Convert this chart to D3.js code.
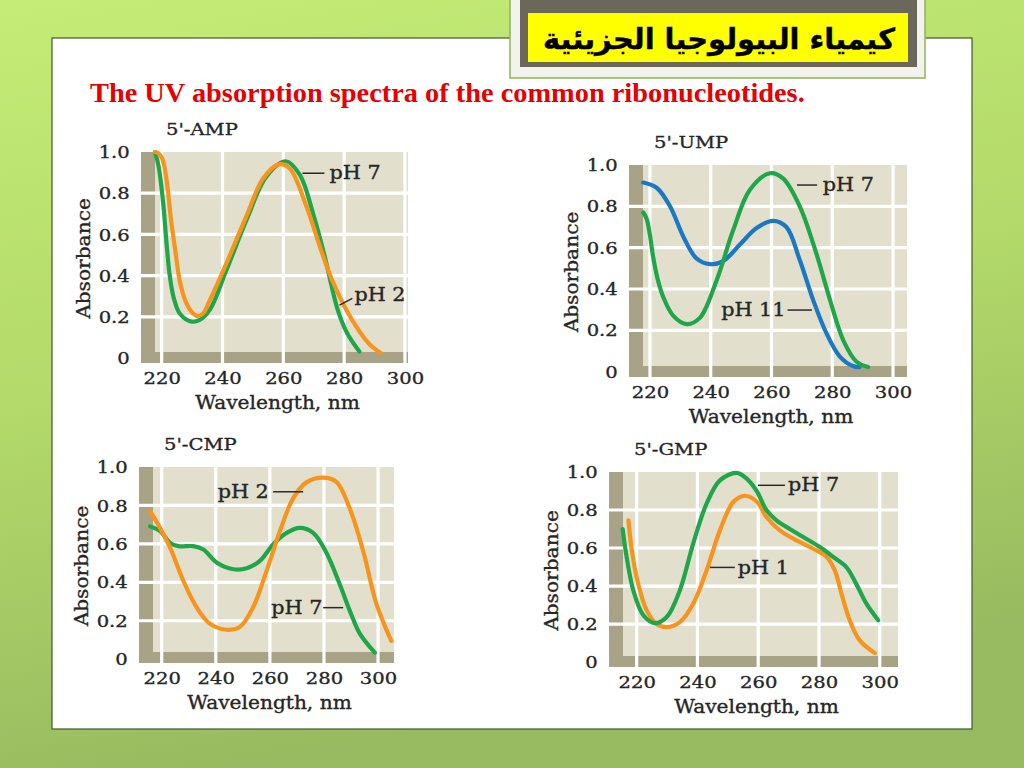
<!DOCTYPE html>
<html><head><meta charset="utf-8">
<script src="https://cdn.jsdelivr.net/npm/d3@7"></script>
<style>
html,body{margin:0;padding:0;overflow:hidden;background:#fff;}
svg{display:block;}
</style></head><body>
<svg id="c" width="1024" height="768"></svg>
<script>
// ---------------- DATA ----------------
const headerText = "كيمياء البيولوجيا الجزيئية";
const chartTitle = "The UV absorption spectra of the common ribonucleotides.";
const panelTitles = ["5'-AMP", "5'-UMP", "5'-CMP", "5'-GMP"];
const wavelengthTicks = [220, 240, 260, 280, 300];
const absorbanceTicks = [0, 0.2, 0.4, 0.6, 0.8, 1.0];
const absorbanceTickLabels = ["0", "0.2", "0.4", "0.6", "0.8", "1.0"];
const xAxisTitle = "Wavelength, nm";
const yAxisTitle = "Absorbance";

// 5'-AMP
const amp_pH7_wl  = [217.8, 219.0, 220.5, 221.6, 222.7, 224.0, 226.0, 229.8, 232.5, 235.8, 241.3, 247.9, 254.4, 260.8, 265.4, 270.0, 273.5, 277.9, 281.0, 285.0];
const amp_pH7_abs = [1.0, 0.93, 0.75, 0.556, 0.395, 0.29, 0.215, 0.177, 0.185, 0.234, 0.427, 0.67, 0.88, 0.955, 0.89, 0.69, 0.50, 0.234, 0.12, 0.032];
const amp_pH2_wl  = [217.8, 218.8, 220.0, 221.0, 222.0, 223.0, 224.4, 226.0, 228.0, 229.8, 231.5, 233.5, 235.8, 241.3, 247.9, 253.3, 258.5, 262.1, 267.5, 272.5, 276.0, 280.7, 285.0, 288.5, 292.0];
const amp_pH2_abs = [1.0, 0.995, 0.975, 0.92, 0.82, 0.68, 0.53, 0.37, 0.27, 0.225, 0.205, 0.215, 0.28, 0.46, 0.69, 0.87, 0.94, 0.92, 0.74, 0.52, 0.38, 0.234, 0.13, 0.065, 0.025];

// 5'-UMP
const ump_pH7_wl   = [217.8, 218.9, 220.0, 221.1, 222.5, 224.4, 227.7, 232.1, 236.4, 241.9, 247.4, 252.9, 259.5, 263.8, 269.3, 274.8, 279.2, 283.6, 288.0, 291.8];
const ump_pH7_abs  = [0.77, 0.74, 0.66, 0.55, 0.45, 0.36, 0.27, 0.23, 0.26, 0.44, 0.685, 0.88, 0.96, 0.935, 0.80, 0.57, 0.35, 0.153, 0.048, 0.022];
const ump_pH11_wl  = [217.8, 222.2, 226.6, 231.0, 235.3, 239.7, 244.1, 249.6, 255.1, 260.5, 264.9, 269.3, 273.7, 278.1, 282.5, 286.8, 289.0];
const ump_pH11_abs = [0.915, 0.89, 0.80, 0.653, 0.548, 0.52, 0.535, 0.615, 0.695, 0.73, 0.70, 0.54, 0.347, 0.185, 0.073, 0.027, 0.022];

// 5'-CMP
const cmp_pH2_wl  = [215.7, 219.4, 223.1, 228.0, 232.9, 237.8, 244.0, 248.9, 253.8, 258.8, 263.7, 268.6, 273.5, 279.7, 284.6, 289.5, 294.5, 299.4, 304.9];
const cmp_pH2_abs = [0.77, 0.683, 0.58, 0.408, 0.27, 0.185, 0.153, 0.168, 0.27, 0.46, 0.666, 0.837, 0.92, 0.945, 0.923, 0.786, 0.563, 0.288, 0.095];
const cmp_pH7_wl  = [215.7, 219.4, 223.1, 226.2, 231.7, 235.4, 240.3, 246.5, 251.4, 256.3, 261.2, 266.2, 271.1, 276.0, 280.9, 285.8, 289.5, 293.2, 298.8];
const cmp_pH7_abs = [0.691, 0.666, 0.605, 0.588, 0.588, 0.571, 0.503, 0.468, 0.473, 0.511, 0.597, 0.657, 0.683, 0.657, 0.554, 0.391, 0.254, 0.134, 0.034];

// 5'-GMP
const gmp_pH7_wl  = [215.4, 216.7, 218.9, 222.2, 226.0, 229.9, 234.2, 238.6, 243.0, 247.4, 252.9, 256.2, 259.5, 262.7, 266.0, 270.4, 274.8, 280.3, 284.7, 289.0, 292.3, 295.6, 299.5];
const gmp_pH7_abs = [0.70, 0.553, 0.377, 0.246, 0.205, 0.237, 0.377, 0.623, 0.833, 0.956, 0.995, 0.965, 0.90, 0.80, 0.746, 0.70, 0.658, 0.605, 0.553, 0.50, 0.41, 0.307, 0.22];
const gmp_pH1_wl  = [217.3, 218.4, 220.5, 223.3, 226.6, 229.9, 234.2, 238.6, 243.0, 247.4, 251.8, 255.6, 259.5, 262.7, 267.1, 272.6, 278.1, 282.5, 285.2, 287.4, 290.1, 293.4, 298.4];
const gmp_pH1_abs = [0.746, 0.588, 0.412, 0.272, 0.20, 0.184, 0.21, 0.307, 0.482, 0.693, 0.842, 0.875, 0.845, 0.763, 0.693, 0.64, 0.596, 0.553, 0.482, 0.36, 0.22, 0.114, 0.047];

// ---------------- STYLE / LAYOUT ----------------
const GREEN = "#20a64a", ORANGE = "#f7941e", BLUE = "#1b78c2";
const SERIF = "'DejaVu Serif', serif";
const TXT = "#262626";
const SX = 1.12; // horizontal stretch of the serif lettering

const zip = (a, b) => a.map((v, i) => [v, b[i]]);

const panels = [
  { title: panelTitles[0], box: [141, 152, 408, 363], xd: [213.2, 301], yd: [-0.024, 1.0],
    series: [ {d: zip(amp_pH7_wl, amp_pH7_abs), c: GREEN}, {d: zip(amp_pH2_wl, amp_pH2_abs), c: ORANGE} ],
    labels: [ {t: "pH 7", l: [266.3, 0.897, 273.5, 0.897], tx: 275.2, ty: 0.897, a: "start"},
              {t: "pH 2", l: [278.5, 0.257, 282.7, 0.29], tx: 283.4, ty: 0.305, a: "start"} ] },
  { title: panelTitles[1], box: [629, 165, 907, 377], xd: [213.1, 304.6], yd: [-0.026, 1.0],
    series: [ {d: zip(ump_pH11_wl, ump_pH11_abs), c: BLUE}, {d: zip(ump_pH7_wl, ump_pH7_abs), c: GREEN} ],
    labels: [ {t: "pH 7", l: [268.4, 0.903, 275.0, 0.903], tx: 276.9, ty: 0.903, a: "start"},
              {t: "pH 11", l: [265.3, 0.298, 273.3, 0.298], tx: 264.6, ty: 0.298, a: "end"} ] },
  { title: panelTitles[2], box: [139, 467, 394, 663], xd: [211.6, 305.9], yd: [-0.02, 1.0],
    series: [ {d: zip(cmp_pH7_wl, cmp_pH7_abs), c: GREEN}, {d: zip(cmp_pH2_wl, cmp_pH2_abs), c: ORANGE} ],
    labels: [ {t: "pH 2", l: [261.2, 0.871, 272.3, 0.871], tx: 259.6, ty: 0.871, a: "end"},
              {t: "pH 7", l: [279.7, 0.268, 287.1, 0.268], tx: 279.4, ty: 0.268, a: "end"} ] },
  { title: panelTitles[3], box: [609, 472, 898, 667], xd: [210.9, 306], yd: [-0.026, 1.0],
    series: [ {d: zip(gmp_pH1_wl, gmp_pH1_abs), c: ORANGE}, {d: zip(gmp_pH7_wl, gmp_pH7_abs), c: GREEN} ],
    labels: [ {t: "pH 7", l: [259.9, 0.93, 268.8, 0.93], tx: 269.8, ty: 0.93, a: "start"},
              {t: "pH 1", l: [244.1, 0.498, 252.3, 0.498], tx: 253.3, ty: 0.498, a: "start"} ] }
];

const svg = d3.select("#c");
const defs = svg.append("defs");
const bgGrad = defs.append("linearGradient").attr("id", "bg").attr("x1", 0).attr("y1", 0).attr("x2", 0.25).attr("y2", 1);
bgGrad.append("stop").attr("offset", 0).attr("stop-color", "#c4ec76");
bgGrad.append("stop").attr("offset", 0.5).attr("stop-color", "#b3da6a");
bgGrad.append("stop").attr("offset", 1).attr("stop-color", "#98ba60");

svg.append("rect").attr("width", 1024).attr("height", 768).attr("fill", "url(#bg)");
// white page
svg.append("rect").attr("x", 52).attr("y", 38).attr("width", 920).attr("height", 691)
  .attr("fill", "#ffffff").attr("stroke", "#3e5a28").attr("stroke-width", 1.2);

// header box
svg.append("rect").attr("x", 510).attr("y", -4).attr("width", 415).attr("height", 82)
  .attr("fill", "#f3f3ee").attr("stroke", "#8fb456").attr("stroke-width", 1.5);
svg.append("rect").attr("x", 520).attr("y", -4).attr("width", 397).attr("height", 71).attr("fill", "#6c675b");
svg.append("rect").attr("x", 528).attr("y", 13).attr("width", 380).attr("height", 49).attr("fill", "#ffff00");
const head = svg.append("text").attr("x", 719).attr("y", 39).attr("text-anchor", "middle")
  .attr("dominant-baseline", "central").attr("direction", "rtl")
  .style("font-family", "'DejaVu Sans', 'Noto Sans', sans-serif").style("font-weight", "bold")
  .style("font-size", "30px").attr("fill", "#000").attr("stroke", "#000").attr("stroke-width", 0.4)
  .text(headerText);
{ const w = head.node().getComputedTextLength(); if (w > 0) head.style("font-size", (30 * 352 / w) + "px"); }

// red title
const ttl = svg.append("text").attr("x", 90).attr("y", 102)
  .style("font-family", "'Liberation Serif', 'Times New Roman', serif").style("font-weight", "bold")
  .style("font-size", "27px").attr("fill", "#e60000").text(chartTitle);
{ const w = ttl.node().getComputedTextLength(); if (w > 0) ttl.style("font-size", (27 * 715 / w) + "px"); }

const line = d3.line().curve(d3.curveCatmullRom.alpha(0.5));

function serifText(g, px, py, txt, size, anchor, rot) {
  return g.append("text")
    .attr("transform", `translate(${px},${py})` + (rot ? ` rotate(${rot})` : "") + ` scale(${SX},1)`)
    .attr("text-anchor", anchor).attr("dominant-baseline", "central")
    .style("font-family", SERIF).style("font-size", size + "px")
    .attr("fill", TXT).attr("stroke", TXT).attr("stroke-width", 0.35).text(txt);
}

panels.forEach(p => {
  const [L, T, R, B] = p.box;
  const x = d3.scaleLinear().domain(p.xd).range([L, R]);
  const y = d3.scaleLinear().domain(p.yd).range([B, T]);
  const g = svg.append("g");

  g.append("rect").attr("x", L).attr("y", T).attr("width", R - L).attr("height", B - T).attr("fill", "#e2dfcc");
  g.append("rect").attr("x", L).attr("y", T).attr("width", 14).attr("height", B - T).attr("fill", "#a8a387");
  g.append("rect").attr("x", L).attr("y", B - 11).attr("width", R - L).attr("height", 11).attr("fill", "#a8a387");

  g.selectAll(".vg").data(wavelengthTicks).enter().append("line")
    .attr("x1", d => x(d)).attr("x2", d => x(d)).attr("y1", T).attr("y2", B)
    .attr("stroke", "#fff").attr("stroke-width", 3.2);
  g.selectAll(".hg").data(absorbanceTicks.filter(v => v > 0 && v < 1)).enter().append("line")
    .attr("x1", L).attr("x2", R).attr("y1", d => y(d)).attr("y2", d => y(d))
    .attr("stroke", "#fff").attr("stroke-width", 3.2);

  p.series.forEach(s => {
    g.append("path").attr("d", line(s.d.map(d => [x(d[0]), y(d[1])])))
      .attr("fill", "none").attr("stroke", s.c).attr("stroke-width", 4.2)
      .attr("stroke-linecap", "round").attr("stroke-linejoin", "round");
  });

  // axes
  const ax = g.append("g").attr("transform", `translate(0,${B})`)
    .call(d3.axisBottom(x).tickValues(wavelengthTicks).tickSize(0).tickPadding(9).tickFormat(d3.format("d")));
  ax.select(".domain").remove();
  ax.selectAll("text").style("font-family", SERIF).style("font-size", "17.5px")
    .attr("fill", TXT).attr("stroke", TXT).attr("stroke-width", 0.35)
    .attr("transform", `scale(${SX},1)`);

  const ay = g.append("g").attr("transform", `translate(${L},0)`)
    .call(d3.axisLeft(y).tickValues(absorbanceTicks).tickSize(0).tickPadding(10)
      .tickFormat((d, i) => absorbanceTickLabels[i]));
  ay.select(".domain").remove();
  ay.selectAll("text").style("font-family", SERIF).style("font-size", "17.5px")
    .attr("fill", TXT).attr("stroke", TXT).attr("stroke-width", 0.35)
    .attr("transform", `scale(${SX},1)`);

  serifText(g, (L + R) / 2 + 3, B + 40, xAxisTitle, 18, "middle");
  serifText(g, L - 57, (T + B) / 2 + 1, yAxisTitle, 18, "middle", -90);
  serifText(g, L + 25, T - 23, p.title, 17.5, "start");

  p.labels.forEach(lb => {
    g.append("line").attr("x1", x(lb.l[0])).attr("y1", y(lb.l[1])).attr("x2", x(lb.l[2])).attr("y2", y(lb.l[3]))
      .attr("stroke", "#2a2a2a").attr("stroke-width", 1.5);
    serifText(g, x(lb.tx), y(lb.ty), lb.t, 18.5, lb.a);
  });
});
</script>
</body></html>
